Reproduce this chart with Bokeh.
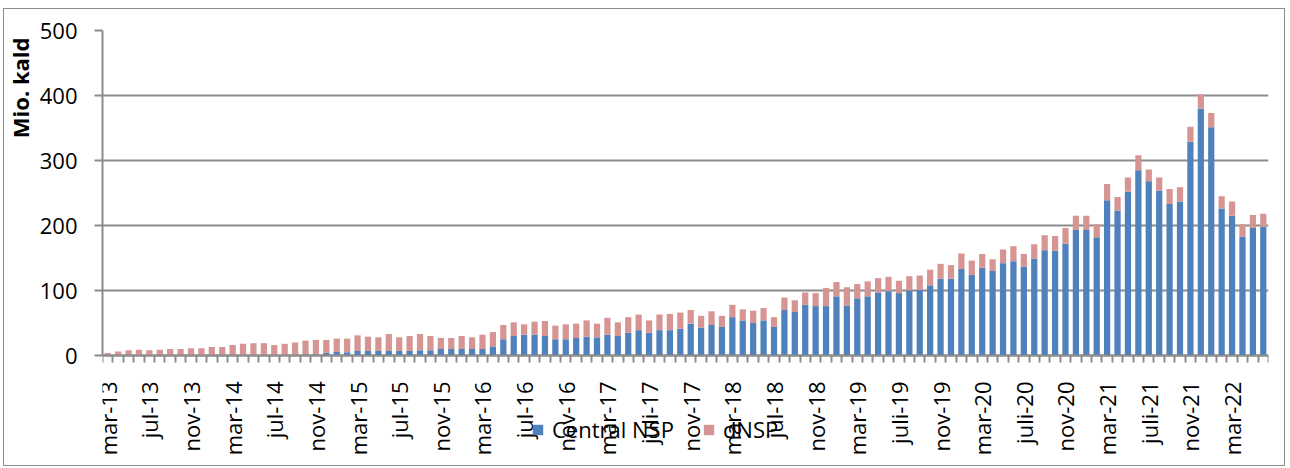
import math
from bokeh.plotting import figure
from bokeh.models import ColumnDataSource, Range1d, FixedTicker, Legend, Title
from bokeh.embed import file_html
from bokeh.resources import INLINE

# ---- data -------------------------------------------------------------
month_names = ["jan", "feb", "mar", "apr", "maj", "jun", "jul", "aug", "sep", "okt", "nov", "dec"]
months = []
for yy in range(13, 23):
    for mi, mn in enumerate(month_names):
        if (yy == 13 and mi < 2) or (yy == 22 and mi > 5):
            continue
        months.append(f"{mn}-{yy}")

central_nsp = [0, 0, 0, 0, 0, 0, 0, 0, 0, 0, 0, 0, 0, 0, 0, 0, 0, 0, 1.5, 2,
               2, 4, 5.5, 5, 7, 7, 7, 7, 7, 7, 8, 8, 10, 10, 10, 10, 10, 14, 25, 30,
               32, 32, 30, 25, 25, 27, 29, 28, 32, 30, 35, 39, 35, 39, 39, 41, 49, 43, 47, 44,
               59, 54, 50, 54, 44, 70, 67, 78, 76, 76, 91, 77, 88, 91, 97, 99, 96, 100, 101, 108,
               118, 118, 133, 124, 135, 130, 142, 145, 137, 149, 162, 161, 172, 193, 193, 182, 239, 223, 252, 285,
               268, 254, 233, 237, 329, 380, 351, 226, 215, 183, 196, 198]
total_calls = [4, 6, 8, 9, 8, 9, 10, 10, 11, 11, 13, 13, 16, 18, 19, 19, 16, 18, 20, 23,
               24, 24, 26, 26, 31, 29, 28, 33, 28, 30, 33, 30, 27, 27, 30, 28, 32, 36, 47, 51,
               48, 52, 53, 46, 48, 49, 54, 49, 58, 51, 59, 63, 54, 63, 64, 66, 70, 61, 68, 61,
               78, 71, 69, 73, 59, 89, 85, 97, 96, 104, 113, 105, 110, 114, 119, 121, 115, 122, 123, 132,
               141, 139, 157, 146, 156, 148, 163, 168, 156, 171, 185, 184, 196, 215, 215, 202, 264, 244, 274, 308,
               286, 274, 256, 259, 352, 402, 373, 245, 237, 202, 216, 218]
dnsp = [round(t - c, 1) for t, c in zip(total_calls, central_nsp)]

tick_labels = ["mar-13", "jul-13", "nov-13", "mar-14", "jul-14", "nov-14", "mar-15", "jul-15",
               "nov-15", "mar-16", "jul-16", "nov-16", "mar-17", "juli-17", "nov-17", "mar-18",
               "jul-18", "nov-18", "mar-19", "juli-19", "nov-19", "mar-20", "juli-20", "nov-20",
               "mar-21", "juli-21", "nov-21", "mar-22"]
y_ticks = [0, 100, 200, 300, 400, 500]
series_names = ["Central NSP", "dNSP"]
colors = ["#4F81BD", "#D69593"]

# ---- layout geometry (pixels) ------------------------------------------
FONT = "Open Sans"
W, H = 1282, 458
TOP, LEFT, RIGHT = 21, 94, 18
VALUE_PX = 325            # pixels from 0 to 500
frame_h = H - TOP
y_max = 500
y_min = -y_max * (frame_h - VALUE_PX) / VALUE_PX   # room below the axis for labels/legend

xs = list(range(len(months)))
src = ColumnDataSource(dict(x=xs, month=months, central=central_nsp, dnsp=dnsp))

p = figure(width=W, height=H, output_backend="svg", toolbar_location=None,
           x_range=Range1d(-0.5, len(months) - 0.5), y_range=Range1d(y_min, y_max),
           min_border_left=LEFT, min_border_top=TOP, min_border_right=RIGHT, min_border_bottom=0)
p.styles = {"border": "1px solid #8c8c8c", "margin-left": "3px", "margin-top": "8px"}
p.outline_line_color = None
p.background_fill_color = "white"

renderers = p.vbar_stack(["central", "dnsp"], x="x", width=0.6, source=src,
                         color=colors, line_color=None)

# y axis
p.yaxis.ticker = FixedTicker(ticks=y_ticks)
p.yaxis.bounds = (0, 500)
p.yaxis.major_label_text_font = FONT
p.yaxis.major_label_text_font_size = "22px"
p.yaxis.major_label_text_color = "#000000"
p.yaxis.major_label_standoff = 17
p.yaxis.major_tick_out = 8
p.yaxis.major_tick_in = 0
p.yaxis.minor_tick_out = 0
p.yaxis.minor_tick_in = 0
p.yaxis.axis_line_color = "#8c8c8c"
p.yaxis.axis_line_width = 2
p.yaxis.major_tick_line_color = "#8c8c8c"
p.yaxis.major_tick_line_width = 2
p.ygrid.ticker = FixedTicker(ticks=y_ticks)
p.ygrid.grid_line_color = "#8c8c8c"
p.ygrid.grid_line_width = 2
p.xgrid.grid_line_color = None

# x axis (drawn at value 0 inside the frame so the legend can overlap its labels)
major = list(range(0, len(months), 4))[:len(tick_labels)]
p.xaxis.fixed_location = 0
p.xaxis.ticker = FixedTicker(ticks=major, minor_ticks=[i - 0.5 for i in range(len(months) + 1)])
p.xaxis.major_label_overrides = {m: lab for m, lab in zip(major, tick_labels)}
p.xaxis.major_label_orientation = math.pi / 2
p.xaxis.major_label_text_font = FONT
p.xaxis.major_label_text_font_size = "22px"
p.xaxis.major_label_text_color = "#000000"
p.xaxis.major_label_standoff = 19
p.xaxis.major_tick_out = 0
p.xaxis.major_tick_in = 0
p.xaxis.minor_tick_out = 7
p.xaxis.minor_tick_in = 0
p.xaxis.minor_tick_line_color = "#8c8c8c"
p.xaxis.minor_tick_line_width = 2
p.xaxis.axis_line_color = "#8c8c8c"
p.xaxis.axis_line_width = 2

# y axis title at top-left
p.add_layout(Title(text="Mio. kald", align="right", vertical_align="top", offset=7,
                   text_font=FONT, text_font_size="22px",
                   text_font_style="bold", text_color="#000000", standoff=0), "left")

legend = Legend(items=[(series_names[0], [renderers[0]]), (series_names[1], [renderers[1]])],
                orientation="horizontal", location=(429, 23),
                label_text_font=FONT, label_text_font_size="22px", label_text_color="#000000",
                glyph_width=13, glyph_height=13, label_standoff=8, spacing=28,
                padding=0, margin=0, border_line_color=None, background_fill_alpha=0)
p.add_layout(legend, "center")

open("out.html", "w").write(file_html(p, INLINE))
